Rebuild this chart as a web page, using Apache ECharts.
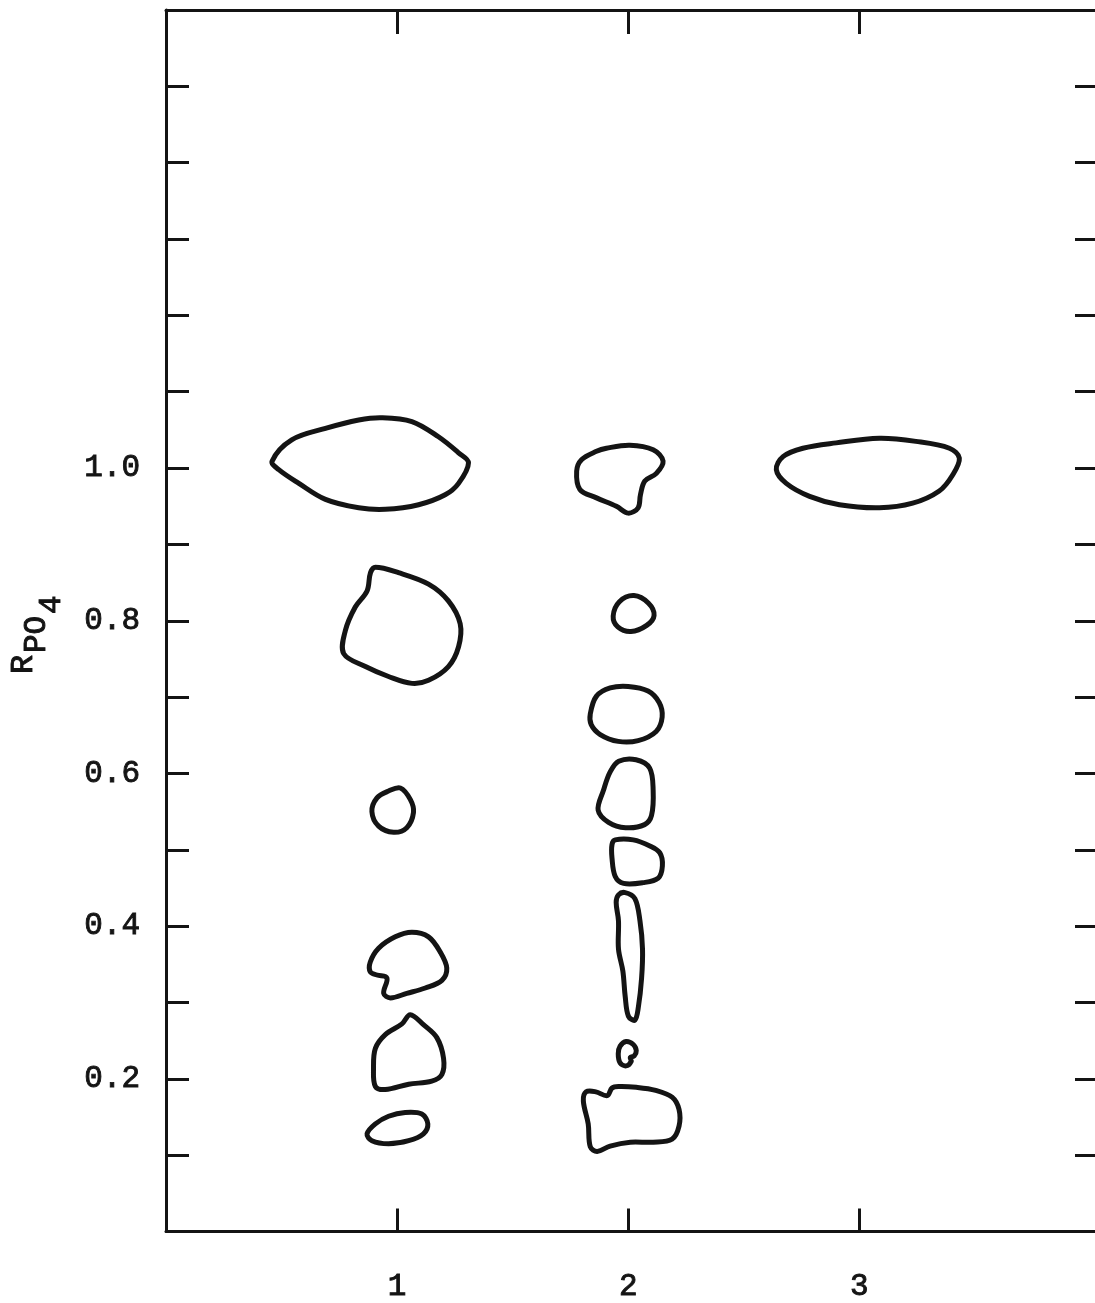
<!DOCTYPE html>
<html>
<head>
<meta charset="utf-8">
<script src="https://cdn.jsdelivr.net/npm/echarts@6/dist/echarts.min.js"></script>
<style>
  html, body { margin: 0; padding: 0; background: #ffffff; }
  #chart { width: 1095px; height: 1303px; }
</style>
</head>
<body>
<div id="chart"></div>
<script>
// Lanes along the bottom axis
const laneLabels = ['1', '2', '3'];
const laneValues = [1, 2, 3];

// R(PO4) axis: a tick every 0.1, labels on the even tenths
const rfTickValues = [0.1, 0.2, 0.3, 0.4, 0.5, 0.6, 0.7, 0.8, 0.9, 1.0, 1.1, 1.2, 1.3, 1.4, 1.5];
const rfLabelValues = [0.2, 0.4, 0.6, 0.8, 1.0];

// Spot outlines, each vertex is [lane position, R value]
// Lane 1
const lane1SpotA = [[0.459,1.009],[0.544,1.037],[0.690,1.052],[0.834,1.063],[0.933,1.066],[1.064,1.061],[1.179,1.041],[1.266,1.020],[1.309,1.007],[1.266,0.980],[1.208,0.965],[1.093,0.952],[0.949,0.946],[0.834,0.948],[0.690,0.959],[0.575,0.980],[0.488,0.998]];
const lane1SpotB = [[0.906,0.870],[1.006,0.863],[1.136,0.848],[1.222,0.826],[1.273,0.796],[1.266,0.766],[1.222,0.740],[1.136,0.722],[1.064,0.718],[0.963,0.727],[0.863,0.740],[0.769,0.757],[0.776,0.787],[0.819,0.818],[0.870,0.839],[0.885,0.863]];
const lane1SpotC = [[1.014,0.581],[1.057,0.566],[1.071,0.549],[1.042,0.529],[0.985,0.523],[0.920,0.531],[0.891,0.550],[0.913,0.568],[0.963,0.577]];
const lane1SpotD = [[0.884,0.353],[0.920,0.371],[0.992,0.386],[1.064,0.392],[1.136,0.386],[1.187,0.366],[1.215,0.345],[1.194,0.329],[1.122,0.319],[1.042,0.312],[0.971,0.306],[0.942,0.312],[0.956,0.332],[0.913,0.336],[0.884,0.340]];
const lane1SpotE = [[1.057,0.284],[1.114,0.271],[1.172,0.254],[1.201,0.227],[1.194,0.206],[1.150,0.197],[1.050,0.193],[0.949,0.186],[0.906,0.190],[0.898,0.214],[0.906,0.240],[0.949,0.258],[1.021,0.272]];
const lane1SpotF = [[0.870,0.128],[0.906,0.141],[0.963,0.151],[1.035,0.156],[1.107,0.154],[1.133,0.141],[1.114,0.128],[1.050,0.119],[0.963,0.115],[0.891,0.119]];

// Lane 2
const lane2SpotA = [[1.777,0.996],[1.798,1.011],[1.863,1.022],[1.906,1.026],[2.007,1.030],[2.108,1.024],[2.151,1.009],[2.122,0.993],[2.072,0.983],[2.053,0.965],[2.043,0.948],[2.000,0.941],[1.949,0.950],[1.863,0.961],[1.791,0.972]];
const lane2SpotB = [[1.935,0.806],[1.962,0.825],[2.025,0.833],[2.088,0.823],[2.112,0.807],[2.080,0.794],[2.012,0.786],[1.955,0.792]];
const lane2SpotC = [[1.836,0.678],[1.862,0.701],[1.922,0.712],[2.000,0.714],[2.086,0.708],[2.134,0.693],[2.147,0.674],[2.121,0.655],[2.043,0.643],[1.957,0.642],[1.879,0.651],[1.840,0.664]];
const lane2SpotD = [[1.959,0.616],[2.034,0.618],[2.093,0.607],[2.108,0.578],[2.101,0.545],[2.071,0.533],[1.989,0.529],[1.915,0.536],[1.870,0.552],[1.893,0.578],[1.922,0.602]];
const lane2SpotE = [[1.944,0.513],[2.022,0.513],[2.094,0.505],[2.137,0.496],[2.148,0.479],[2.130,0.463],[2.065,0.457],[1.980,0.456],[1.944,0.465],[1.930,0.489],[1.930,0.507]];
const lane2SpotF = [[1.987,0.444],[2.029,0.436],[2.051,0.407],[2.062,0.370],[2.058,0.332],[2.044,0.294],[2.029,0.277],[2.001,0.282],[1.987,0.308],[1.977,0.341],[1.958,0.370],[1.958,0.407],[1.948,0.431],[1.958,0.441]];
const lane2SpotG = [[1.991,0.249],[2.022,0.245],[2.035,0.237],[2.026,0.230],[2.009,0.228],[2.013,0.223],[1.991,0.217],[1.965,0.221],[1.957,0.233],[1.965,0.243]];
const lane2SpotH = [[1.818,0.183],[1.860,0.183],[1.909,0.178],[1.930,0.188],[1.958,0.190],[2.035,0.189],[2.119,0.185],[2.190,0.176],[2.220,0.160],[2.220,0.138],[2.190,0.121],[2.108,0.117],[2.009,0.117],[1.922,0.112],[1.866,0.105],[1.836,0.111],[1.827,0.141],[1.806,0.171]];

// Lane 3
const lane3SpotA = [[2.641,0.998],[2.670,1.015],[2.756,1.026],[2.900,1.033],[3.087,1.039],[3.245,1.035],[3.390,1.026],[3.433,1.013],[3.404,0.991],[3.346,0.970],[3.231,0.954],[3.087,0.948],[2.914,0.952],[2.785,0.963],[2.684,0.980]];

const spotOutlines = [
  lane1SpotA, lane1SpotB, lane1SpotC, lane1SpotD, lane1SpotE, lane1SpotF,
  lane2SpotA, lane2SpotB, lane2SpotC, lane2SpotD, lane2SpotE, lane2SpotF, lane2SpotG, lane2SpotH,
  lane3SpotA
];

const INK = '#141414';
const FONT = '"Liberation Mono", "Courier New", monospace';
const FONT_SIZE = 31;

const chart = echarts.init(document.getElementById('chart'), null, { renderer: 'canvas' });

function tickAxis(extra) {
  return Object.assign({
    type: 'value',
    splitLine: { show: false },
    axisLine: { show: true, onZero: false, lineStyle: { color: INK, width: 3 } },
    axisTick: { show: true, inside: true, length: 23, lineStyle: { color: INK, width: 3 } },
    axisLabel: { show: false }
  }, extra);
}

const labelStyle = {
  fontFamily: FONT, fontSize: FONT_SIZE, color: INK,
  textBorderColor: INK, textBorderWidth: 0.9
};

const option = {
  backgroundColor: '#ffffff',
  animation: false,
  grid: { left: 166, top: 10, width: 931, height: 1228, containLabel: false },
  xAxis: [
    tickAxis({
      position: 'bottom', min: 0, max: 4.02,
      axisTick: { show: true, inside: true, length: 23, customValues: laneValues, lineStyle: { color: INK, width: 3 } },
      axisLabel: Object.assign({
        show: true, customValues: laneValues, margin: 40,
        formatter: v => laneLabels[laneValues.indexOf(Math.round(v))] || ''
      }, labelStyle)
    }),
    tickAxis({
      position: 'top', min: 0, max: 4.02,
      axisTick: { show: true, inside: true, length: 24, customValues: laneValues, lineStyle: { color: INK, width: 3 } }
    })
  ],
  yAxis: [
    tickAxis({
      position: 'left', min: 0, max: 1.6,
      axisTick: { show: true, inside: true, length: 23, customValues: rfTickValues, lineStyle: { color: INK, width: 3 } },
      axisLabel: Object.assign({
        show: true, customValues: rfLabelValues, margin: 26,
        padding: [8, 0, 0, 0],
        formatter: v => v.toFixed(1)
      }, labelStyle)
    }),
    tickAxis({
      position: 'right', min: 0, max: 1.6,
      axisLine: { show: false, onZero: false },
      axisTick: { show: true, inside: true, length: 20, customValues: rfTickValues, lineStyle: { color: INK, width: 3 } }
    })
  ],
  graphic: [
    {
      // Axis title R with nested subscripts PO and 4, reading bottom to top
      type: 'group',
      x: 8, y: 674,
      rotation: Math.PI / 2,
      children: [
        { type: 'text', x: 0, y: 0, style: { text: 'R', font: '32px ' + FONT, fill: INK, stroke: INK, lineWidth: 0.9, verticalAlign: 'top' } },
        { type: 'text', x: 21, y: 13, style: { text: 'PO', font: FONT_SIZE + 'px ' + FONT, fill: INK, stroke: INK, lineWidth: 0.9, verticalAlign: 'top' } },
        { type: 'text', x: 60, y: 28, style: { text: '4', font: FONT_SIZE + 'px ' + FONT, fill: INK, stroke: INK, lineWidth: 0.9, verticalAlign: 'top' } }
      ]
    }
  ],
  series: [
    {
      type: 'custom',
      coordinateSystem: 'cartesian2d',
      xAxisIndex: 0,
      yAxisIndex: 0,
      silent: true,
      clip: false,
      encode: { x: 0, y: 1 },
      data: spotOutlines.map((outline, i) => [outline[0][0], outline[0][1], i]),
      renderItem: function (params, api) {
        const outline = spotOutlines[api.value(2)];
        const points = outline.map(p => api.coord(p));
        return {
          type: 'polygon',
          shape: { points: points, smooth: 0.35 },
          style: { fill: 'none', stroke: INK, lineWidth: 5, lineJoin: 'round' }
        };
      }
    }
  ]
};

chart.setOption(option);
</script>
</body>
</html>
